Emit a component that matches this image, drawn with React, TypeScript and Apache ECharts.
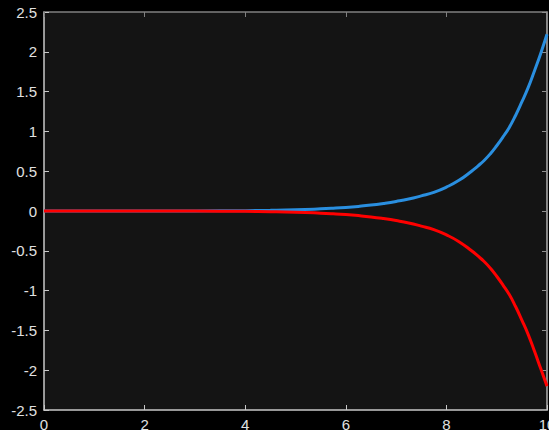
import React, { useEffect, useRef } from "react";
import * as echarts from "echarts";

const xValues = [0, 1, 2, 3, 4, 4.5, 5, 5.5, 5.75, 6, 6.25, 6.5, 6.75, 7, 7.25, 7.5, 7.75, 8, 8.25, 8.5, 8.625, 8.75, 8.875, 9, 9.125, 9.25, 9.375, 9.5, 9.625, 9.75, 9.875, 10];
const blueValues = [0, 0, 0, 0.001, 0.004, 0.008, 0.015, 0.027, 0.035, 0.045, 0.058, 0.074, 0.095, 0.12, 0.15, 0.19, 0.235, 0.3, 0.385, 0.5, 0.565, 0.635, 0.72, 0.82, 0.93, 1.05, 1.2, 1.37, 1.55, 1.76, 1.98, 2.22];
const redValues = [0, 0, 0, -0.001, -0.004, -0.008, -0.015, -0.027, -0.035, -0.045, -0.058, -0.074, -0.095, -0.12, -0.15, -0.19, -0.235, -0.3, -0.385, -0.5, -0.565, -0.635, -0.72, -0.82, -0.93, -1.05, -1.2, -1.37, -1.55, -1.76, -1.98, -2.2];
const xTicks = ["0", "2", "4", "6", "8", "10"];
const yTicks = ["-2.5", "-2", "-1.5", "-1", "-0.5", "0", "0.5", "1", "1.5", "2", "2.5"];

export default function App() {
  const ref = useRef<HTMLDivElement>(null);
  useEffect(() => {
    if (!ref.current) return;
    const chart = echarts.init(ref.current, undefined, { renderer: "svg" });
    const labelColor = "#e0e0e0";
    const font = "Liberation Sans";
    const fmtY = (v: number) => yTicks[Math.round((v + 2.5) / 0.5)] ?? String(v);
    const fmtX = (v: number) => xTicks[Math.round(v / 2)] ?? String(v);
    chart.setOption({
      animation: false,
      backgroundColor: "#000000",
      grid: {
        left: 44,
        right: 2,
        top: 12,
        bottom: 20,
        show: true,
        backgroundColor: "#141414",
        borderWidth: 0,
        containLabel: false,
        outerBoundsMode: "none",
      },
      xAxis: [
        {
          type: "value",
          position: "bottom",
          min: 0,
          max: 10,
          interval: 2,
          axisLine: { show: true, onZero: false, lineStyle: { color: "#c8c8c8", width: 1.5 } },
          axisTick: { show: true, inside: true, length: 5, lineStyle: { color: "#c8c8c8" } },
          axisLabel: { color: labelColor, fontSize: 15, fontFamily: font, margin: 7, formatter: fmtX },
          splitLine: { show: false },
        },
        {
          type: "value",
          position: "top",
          min: 0,
          max: 10,
          interval: 2,
          axisLine: { show: true, onZero: false, lineStyle: { color: "#808080", width: 1.5 } },
          axisTick: { show: true, inside: true, length: 5, lineStyle: { color: "#808080" } },
          axisLabel: { show: false },
          splitLine: { show: false },
        },
      ],
      yAxis: [
        {
          type: "value",
          position: "left",
          min: -2.5,
          max: 2.5,
          interval: 0.5,
          axisLine: { show: true, onZero: false, lineStyle: { color: "#c8c8c8", width: 1.5 } },
          axisTick: { show: true, inside: true, length: 5, lineStyle: { color: "#c8c8c8" } },
          axisLabel: { color: labelColor, fontSize: 15, fontFamily: font, margin: 7, formatter: fmtY },
          splitLine: { show: false },
        },
        {
          type: "value",
          position: "right",
          min: -2.5,
          max: 2.5,
          interval: 0.5,
          axisLine: { show: true, onZero: false, lineStyle: { color: "#b0b0b0", width: 1.5 } },
          axisTick: { show: true, inside: true, length: 5, lineStyle: { color: "#909090" } },
          axisLabel: { show: false },
          splitLine: { show: false },
        },
      ],
      series: [
        {
          type: "line",
          xAxisIndex: 0,
          yAxisIndex: 0,
          data: xValues.map((x, i) => [x, blueValues[i]]),
          showSymbol: false,
          symbol: "none",
          smooth: 0.5,
          lineStyle: { color: "#2a8fe0", width: 3 },
          z: 2,
        },
        {
          type: "line",
          xAxisIndex: 0,
          yAxisIndex: 0,
          data: xValues.map((x, i) => [x, redValues[i]]),
          showSymbol: false,
          symbol: "none",
          smooth: 0.5,
          lineStyle: { color: "#ff0000", width: 3 },
          z: 3,
        },
      ],
    });
    return () => chart.dispose();
  }, []);
  return (
    <div
      ref={ref}
      style={{ position: "fixed", left: 0, top: 0, width: 549, height: 430 }}
    />
  );
}
